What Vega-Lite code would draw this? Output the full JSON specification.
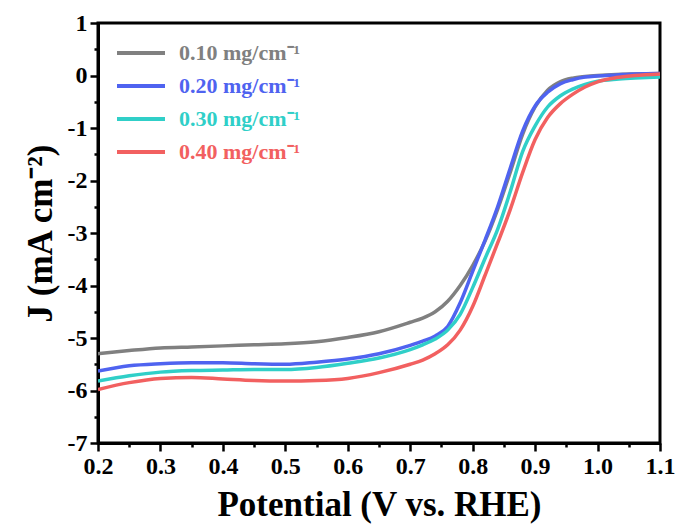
{
  "$schema": "https://vega.github.io/schema/vega-lite/v6.json",
  "width": 562,
  "height": 420,
  "autosize": "none",
  "padding": {"left": 98, "top": 23, "right": 22, "bottom": 88},
  "background": "white",
  "config": {
    "view": {"stroke": "black", "strokeWidth": 3},
    "font": "Liberation Serif",
    "axis": {
      "domainColor": "black", "domainWidth": 3, "tickColor": "black", "tickWidth": 2.5,
      "labelFont": "Liberation Serif", "labelFontWeight": "bold", "labelColor": "black", "labelFontSize": 24,
      "titleFont": "Liberation Serif", "titleFontSize": 35, "titleFontWeight": "bold", "titleColor": "black",
      "grid": false
    }
  },
  "data": {
    "values": [
      {"V": 0.20, "s10": -5.30, "s20": -5.63, "s30": -5.82, "s40": -5.98},
      {"V": 0.25, "s10": -5.24, "s20": -5.53, "s30": -5.72, "s40": -5.85},
      {"V": 0.30, "s10": -5.19, "s20": -5.49, "s30": -5.65, "s40": -5.77},
      {"V": 0.35, "s10": -5.17, "s20": -5.47, "s30": -5.62, "s40": -5.75},
      {"V": 0.40, "s10": -5.15, "s20": -5.47, "s30": -5.61, "s40": -5.78},
      {"V": 0.45, "s10": -5.13, "s20": -5.49, "s30": -5.60, "s40": -5.81},
      {"V": 0.50, "s10": -5.11, "s20": -5.50, "s30": -5.60, "s40": -5.82},
      {"V": 0.55, "s10": -5.07, "s20": -5.46, "s30": -5.56, "s40": -5.81},
      {"V": 0.60, "s10": -4.99, "s20": -5.40, "s30": -5.48, "s40": -5.77},
      {"V": 0.65, "s10": -4.88, "s20": -5.30, "s30": -5.38, "s40": -5.66},
      {"V": 0.70, "s10": -4.70, "s20": -5.14, "s30": -5.22, "s40": -5.50},
      {"V": 0.72, "s10": -4.62, "s20": -5.06, "s30": -5.13, "s40": -5.42},
      {"V": 0.74, "s10": -4.50, "s20": -4.96, "s30": -5.02, "s40": -5.30},
      {"V": 0.76, "s10": -4.30, "s20": -4.78, "s30": -4.85, "s40": -5.13},
      {"V": 0.78, "s10": -4.00, "s20": -4.33, "s30": -4.55, "s40": -4.85},
      {"V": 0.80, "s10": -3.62, "s20": -3.73, "s30": -4.04, "s40": -4.40},
      {"V": 0.82, "s10": -3.15, "s20": -3.13, "s30": -3.48, "s40": -3.80},
      {"V": 0.84, "s10": -2.55, "s20": -2.50, "s30": -2.93, "s40": -3.19},
      {"V": 0.86, "s10": -1.85, "s20": -1.77, "s30": -2.22, "s40": -2.56},
      {"V": 0.88, "s10": -1.12, "s20": -1.06, "s30": -1.45, "s40": -1.85},
      {"V": 0.90, "s10": -0.60, "s20": -0.58, "s30": -0.96, "s40": -1.22},
      {"V": 0.92, "s10": -0.28, "s20": -0.32, "s30": -0.60, "s40": -0.80},
      {"V": 0.94, "s10": -0.12, "s20": -0.16, "s30": -0.39, "s40": -0.54},
      {"V": 0.96, "s10": -0.05, "s20": -0.08, "s30": -0.26, "s40": -0.36},
      {"V": 0.98, "s10": -0.02, "s20": -0.03, "s30": -0.17, "s40": -0.22},
      {"V": 1.00, "s10": 0.00, "s20": -0.01, "s30": -0.11, "s40": -0.12},
      {"V": 1.03, "s10": 0.02, "s20": 0.01, "s30": -0.07, "s40": -0.04},
      {"V": 1.06, "s10": 0.03, "s20": 0.03, "s30": -0.05, "s40": 0.00},
      {"V": 1.10, "s10": 0.04, "s20": 0.04, "s30": -0.03, "s40": 0.03}
    ]
  },
  "transform": [{"fold": ["s10", "s20", "s30", "s40"], "as": ["series", "J"]}],
  "mark": {"type": "line", "strokeWidth": 3.5, "interpolate": "monotone", "clip": true},
  "encoding": {
    "x": {
      "field": "V", "type": "quantitative",
      "scale": {"domain": [0.2, 1.1], "nice": false, "zero": false},
      "axis": {
        "title": "Potential (V vs. RHE)",
        "values": [0.2, 0.25, 0.3, 0.35, 0.4, 0.45, 0.5, 0.55, 0.6, 0.65, 0.7, 0.75, 0.8, 0.85, 0.9, 0.95, 1.0, 1.05, 1.1],
        "labelExpr": "round(datum.value*100) % 10 == 0 ? format(datum.value, '.1f') : ''",
        "tickSize": {"condition": {"test": "round(datum.value*100) % 10 != 0", "value": 4}, "value": 8},
        "labelPadding": 3,
        "titlePadding": 9,
        "labelOverlap": false,
        "labelFlush": false,
        "encode": {"labels": {"update": {"fontSize": {"value": 25}}}}
      }
    },
    "y": {
      "field": "J", "type": "quantitative",
      "scale": {"domain": [-7, 1], "nice": false, "zero": false},
      "axis": {
        "title": "J (mA cm⁻²)",
        "values": [-7, -6.5, -6, -5.5, -5, -4.5, -4, -3.5, -3, -2.5, -2, -1.5, -1, -0.5, 0, 0.5, 1],
        "labelExpr": "datum.value % 1 == 0 ? ((datum.value < 0 ? '-' : '') + abs(datum.value)) : ''",
        "tickSize": {"condition": {"test": "datum.value % 1 != 0", "value": 4}, "value": 8},
        "labelPadding": 3,
        "titlePadding": 9,
        "labelOverlap": false,
        "labelFlush": false,
        "encode": {"labels": {"update": {"fontSize": {"value": 25}}}}
      }
    },
    "color": {
      "field": "series", "type": "nominal",
      "scale": {"domain": ["s10", "s20", "s30", "s40"], "range": ["#808080", "#4f63f0", "#30cfc8", "#f26060"]},
      "legend": {
        "title": null,
        "orient": "none",
        "legendX": 32,
        "legendY": 19,
        "padding": 0,
        "symbolType": "M-4,0H4",
        "symbolSize": 144,
        "symbolStrokeWidth": 4,
        "labelOffset": 27,
        "rowPadding": 11,
        "labelFont": "Liberation Serif",
        "labelFontSize": 22,
        "labelFontWeight": "bold",
        "labelExpr": "'0.' + substring(datum.label, 1) + ' mg/cm⁻¹'",
        "encode": {"labels": {"update": {"fill": {"scale": "color", "field": "value"}}}}
      }
    }
  }
}
